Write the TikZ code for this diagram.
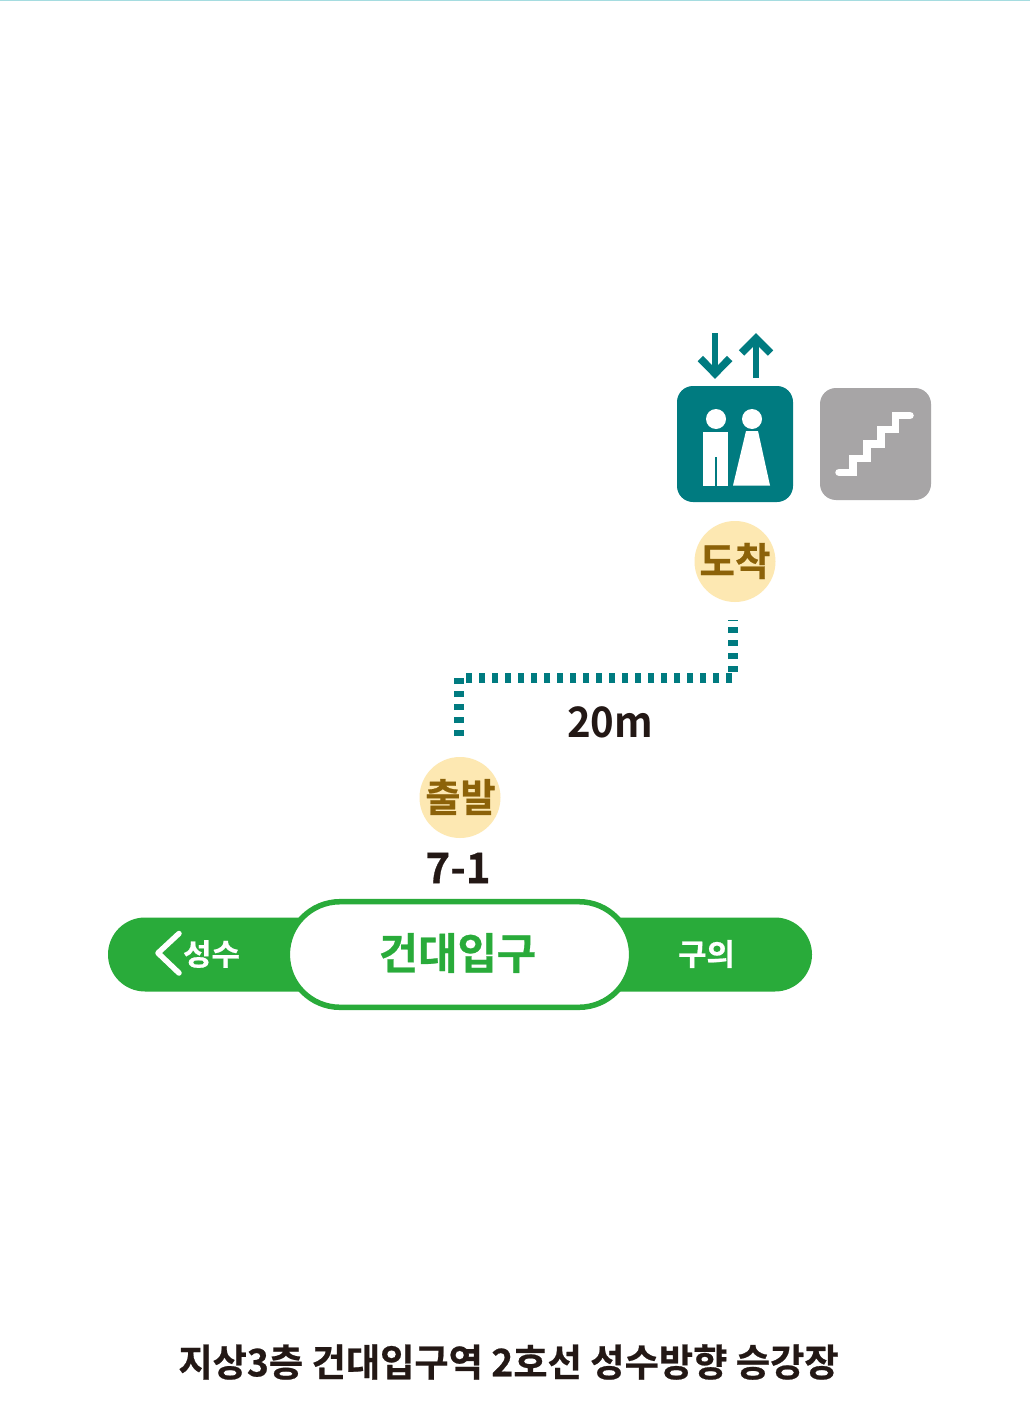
\documentclass[tikz,border=0pt]{standalone}
\usepackage{fontspec}
\usepackage{graphicx}
\usetikzlibrary{shapes.misc}
\newfontfamily\kr{Noto Sans CJK KR}[BoldFont={Noto Sans CJK KR Bold},BoldFeatures={FakeBold=0.6}]
\newfontfamily\krl{Noto Sans CJK KR}[BoldFont={Noto Sans CJK KR Bold}]
\definecolor{teal1}{HTML}{007B80}
\definecolor{grey1}{HTML}{A7A5A6}
\definecolor{green1}{HTML}{29AB3A}
\definecolor{beige1}{HTML}{FDE8B2}
\definecolor{brown1}{HTML}{8C6209}
\definecolor{dark1}{HTML}{231815}
\definecolor{topline}{HTML}{A5DCE0}
\newcommand{\fsz}[2]{\fontsize{#1pt}{#1pt}\selectfont\kr\bfseries\scalebox{#2}[1]}
\newcommand{\fszl}[2]{\fontsize{#1pt}{#1pt}\selectfont\krl\bfseries\scalebox{#2}[1]}
\tikzset{
  x=1pt,y=-1pt,
  lbl/.style={inner sep=0pt,outer sep=0pt,anchor=center},
  tealdash/.style={draw=teal1,line width=10.2pt,dash pattern=on 6.3pt off 6.7pt},
  arrowshaft/.style={draw=teal1,line width=6pt},
  arrowhead/.style={draw=teal1,line width=7.5pt,miter limit=10},
  badge/.style={circle,fill=beige1,minimum size=81pt,inner sep=0pt,outer sep=0pt},
  stationbox/.style={rounded rectangle,draw=green1,fill=white,line width=5.5pt,inner sep=0pt,outer sep=0pt,minimum width=344.4pt,minimum height=105.6pt,text=green1},
}
\begin{document}
\begin{tikzpicture}
\useasboundingbox (0,0) rectangle (1030,1420);
\fill[white] (0,0) rectangle (1030,1420);
\fill[topline] (0,0) rectangle (1030,1.3);
% elevator
\fill[teal1,rounded corners=16pt] (677,386) rectangle (793,502);
\fill[white] (716,419) circle (10);
\fill[white] (752,419) circle (10);
\fill[white] (703,432) rectangle (728,486);
\fill[teal1] (715.2,457) rectangle (716.8,486);
\fill[white] (746,431) -- (758,431) -- (770,485.5) -- (733,485.5) -- cycle;
\draw[arrowshaft] (715,333) -- (715,375);
\draw[arrowhead] (700.3,358.5) -- (715,373.5) -- (729.7,358.5);
\draw[arrowshaft] (756,378) -- (756,338);
\draw[arrowhead] (741.5,353) -- (756,338.5) -- (770.5,353);
% stairs
\fill[grey1,rounded corners=16pt] (820,388) rectangle (931,500);
\draw[white,line width=7.5pt,line cap=round] (839,472.3) -- (853,472.3) -- (853,458.3) -- (867,458.3) -- (867,444) -- (881,444) -- (881,429.7) -- (895.7,429.7) -- (895.7,415.5) -- (910,415.5);
% badges
\node[badge] (arr) at (735,561.5) {};
\node[lbl,text=brown1] (arrt) at (735,561) {\fsz{39}{0.99}{도착}};
\node[badge] (dep) at (460,797.5) {};
\node[lbl,text=brown1] (dept) at (460.5,797) {\fsz{39}{0.98}{출발}};
% route
\coordinate (r1) at (733,619.5);
\coordinate (r2) at (733,672);
\coordinate (r3) at (732.3,678);
\coordinate (r4) at (465.7,678);
\coordinate (r5) at (459,678);
\coordinate (r6) at (459,736);
\draw[tealdash] (r2) -- (r1);
\draw[tealdash] (r3) -- (r4);
\draw[tealdash] (r6) -- (r5);
\node[lbl,text=dark1] (dist) at (610,722) {\fszl{42}{0.955}{20m}};
\node[lbl,text=dark1] (exit) at (458,868) {\fsz{42}{1}{7-1}};
% line
\fill[green1,rounded corners=37pt] (108,917.5) rectangle (812,991.5);
\node[lbl,text=white] (west) at (211.5,954) {\fsz{30}{1.03}{성수}};
\node[lbl,text=white] (east) at (706.5,954) {\fsz{30}{1.03}{구의}};
\draw[white,line width=5.5pt,line cap=round,line join=round] (179,933.5) -- (158,953) -- (179,973);
\node[stationbox] (st) at (459.5,954.5) {};
\node[lbl,text=green1] (stt) at (457.5,953) {\fsz{43}{0.995}{건대입구}};
% caption
\node[lbl,text=dark1] (cap) at (508.5,1362) {\fsz{38}{0.98}{지상3층 건대입구역 2호선 성수방향 승강장}};
\end{tikzpicture}
\end{document}
